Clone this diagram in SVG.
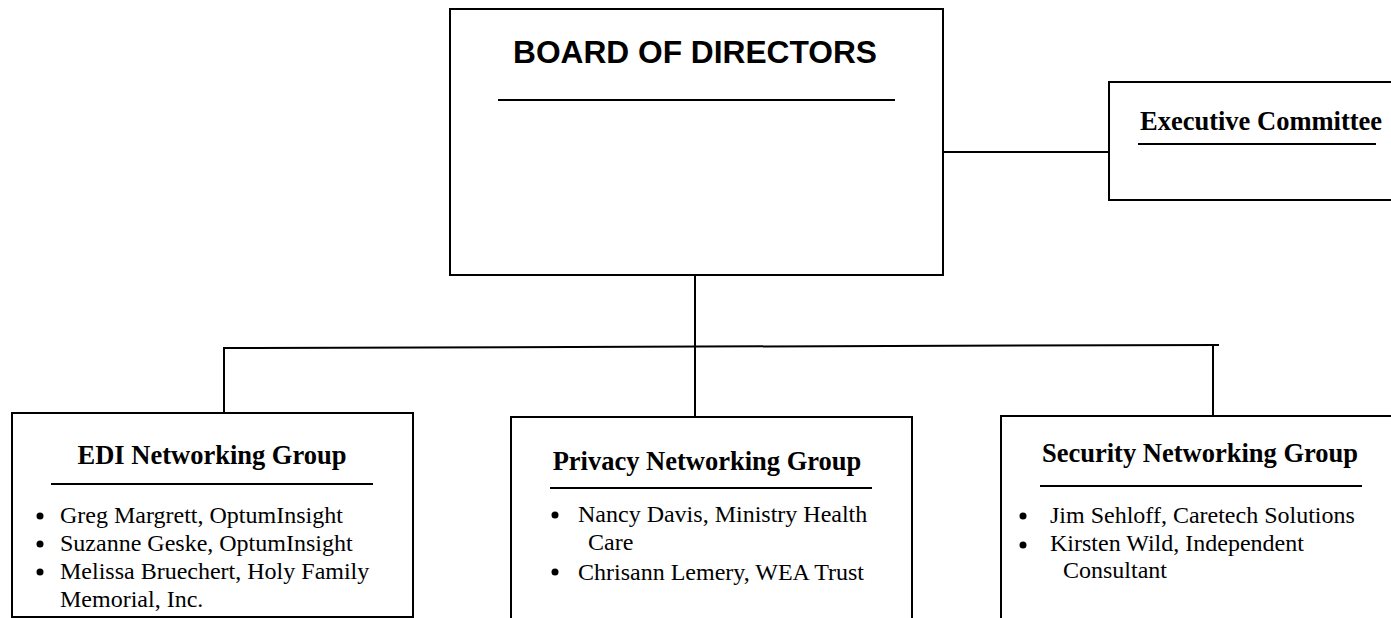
<svg xmlns="http://www.w3.org/2000/svg" width="1391" height="618" viewBox="0 0 1391 618">
<style>
.box{fill:#fff;stroke:#000;stroke-width:2}
.ul{stroke:#000;stroke-width:2}
.conn{stroke:#000;stroke-width:2;fill:none}
.h1{font-family:"Liberation Sans",Arial,sans-serif;font-weight:bold;font-size:31px;fill:#000}
.h2{font-family:"Liberation Serif","Times New Roman",serif;font-weight:bold;font-size:26.5px;fill:#000}
.t{font-family:"Liberation Serif","Times New Roman",serif;font-size:24px;fill:#000}
.b{fill:#000}
</style>
<rect width="1391" height="618" fill="#fff"/>
<g id="connectors">
<line class="conn" x1="943" y1="152" x2="1109" y2="152"/>
<line class="conn" x1="695" y1="275" x2="695" y2="417"/>
<line class="conn" x1="224" y1="348" x2="1219" y2="345"/>
<line class="conn" x1="224" y1="347" x2="224" y2="416"/>
<line class="conn" x1="1213" y1="345" x2="1213" y2="416"/>
</g>
<g id="board">
<rect class="box" x="450" y="9" width="493" height="266"/>
<text class="h1" x="513" y="63" textLength="364" lengthAdjust="spacingAndGlyphs">BOARD OF DIRECTORS</text>
<line class="ul" x1="498" y1="100" x2="895" y2="100"/>
</g>
<g id="executive">
<rect class="box" x="1109" y="82" width="300" height="118"/>
<text class="h2" x="1140" y="130">Executive Committee</text>
<line class="ul" x1="1138" y1="144" x2="1376" y2="144"/>
</g>
<g id="edi">
<rect class="box" x="12" y="413" width="401" height="204"/>
<text class="h2" x="212" y="464" text-anchor="middle">EDI Networking Group</text>
<line class="ul" x1="51" y1="484" x2="373" y2="484"/>
<circle class="b" cx="40" cy="516" r="3.5"/>
<text class="t" x="60" y="523">Greg Margrett, OptumInsight</text>
<circle class="b" cx="40" cy="544" r="3.5"/>
<text class="t" x="60" y="551">Suzanne Geske, OptumInsight</text>
<circle class="b" cx="40" cy="572" r="3.5"/>
<text class="t" x="60" y="579">Melissa Bruechert, Holy Family</text>
<text class="t" x="60" y="607">Memorial, Inc.</text>
</g>
<g id="privacy">
<rect class="box" x="511" y="417" width="401" height="210"/>
<text class="h2" x="707" y="470" text-anchor="middle">Privacy Networking Group</text>
<line class="ul" x1="550" y1="488" x2="872" y2="488"/>
<circle class="b" cx="555" cy="515" r="3.5"/>
<text class="t" x="578" y="522">Nancy Davis, Ministry Health</text>
<text class="t" x="588" y="550">Care</text>
<circle class="b" cx="555" cy="572" r="3.5"/>
<text class="t" x="578" y="580">Chrisann Lemery, WEA Trust</text>
</g>
<g id="security">
<rect class="box" x="1001" y="416" width="420" height="210"/>
<text class="h2" x="1200" y="462" text-anchor="middle">Security Networking Group</text>
<line class="ul" x1="1040" y1="486" x2="1362" y2="486"/>
<circle class="b" cx="1023" cy="516" r="3.5"/>
<text class="t" x="1050" y="523">Jim Sehloff, Caretech Solutions</text>
<circle class="b" cx="1023" cy="545" r="3.5"/>
<text class="t" x="1050" y="551">Kirsten Wild, Independent</text>
<text class="t" x="1063" y="578">Consultant</text>
</g>
</svg>
